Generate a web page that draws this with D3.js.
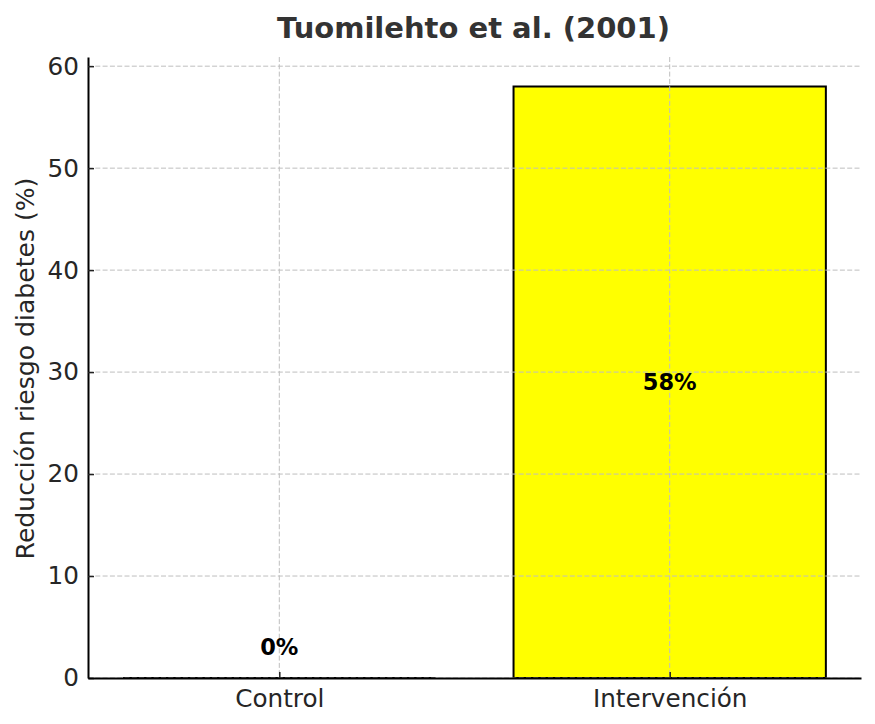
<!DOCTYPE html>
<html>
<head>
<meta charset="utf-8">
<script src="https://cdn.jsdelivr.net/npm/d3@7"></script>
<style>
  body { margin: 0; background: #fff; }
  text { font-family: 'DejaVu Sans', sans-serif; }
</style>
</head>
<body>
<div id="chart"></div>
<script>
const groups = ['Control', 'Intervención'];
const reduction = [0, 58];
const yTicks = [0, 10, 20, 30, 40, 50, 60];

const width = 875, height = 724;
const margin = { top: 57, right: 14, bottom: 46, left: 88 };
const innerW = width - margin.left - margin.right,
  innerH = height - margin.top - margin.bottom;

const svg = d3.select('#chart')
  .append('svg')
  .attr('width', width)
  .attr('height', height)
  .append('g')
  .attr('transform', `translate(${margin.left},${margin.top})`);

// matplotlib-like: bars at integer positions, width .8, 5% margins
const x = d3.scaleLinear()
  .domain([-0.49, groups.length - 1 + 0.49])
  .range([0, innerW]);

const y = d3.scaleLinear()
  .domain([0, d3.max(reduction) * 1.05])
  .range([innerH, 0]);

const barW = x(0.8) - x(0);

// bars
svg.append('g')
  .selectAll('path')
  .data(reduction)
  .enter().append('path')
  .attr('d', (d, i) => {
    const x0 = x(i) - barW / 2, y0 = y(d), h = y(0) - y(d);
    return `M${x0},${y0}h${barW}v${h}h${-barW}Z`;
  })
  .attr('fill', '#ffff00')
  .attr('stroke', '#000')
  .attr('stroke-width', 2);

// grid (drawn on top of bars)
const grid = svg.append('g')
  .attr('stroke', '#bebebe')
  .attr('stroke-width', 1)
  .attr('stroke-dasharray', '5,2.3');

grid.selectAll('.hgrid')
  .data(yTicks)
  .enter().append('line')
  .attr('class', 'hgrid')
  .attr('x1', 0).attr('x2', innerW)
  .attr('y1', d => y(d)).attr('y2', d => y(d));

grid.selectAll('.vgrid')
  .data(groups)
  .enter().append('line')
  .attr('class', 'vgrid')
  .attr('x1', (d, i) => x(i)).attr('x2', (d, i) => x(i))
  .attr('y1', 0).attr('y2', innerH);

// axes
const yAxis = svg.append('g')
  .call(d3.axisLeft(y).tickValues(yTicks).tickSize(-6).tickPadding(9).tickSizeOuter(0));

const xAxis = svg.append('g')
  .attr('transform', `translate(0,${innerH})`)
  .call(d3.axisBottom(x).tickValues(d3.range(groups.length))
    .tickFormat(i => groups[i]).tickSize(-6).tickPadding(8).tickSizeOuter(0));

[yAxis, xAxis].forEach(a => {
  a.select('.domain').attr('stroke', '#000').attr('stroke-width', 2);
  a.selectAll('.tick line').attr('stroke', '#222').attr('stroke-width', 1.5);
  a.selectAll('.tick text')
    .attr('fill', '#262626')
    .style('font-family', "'DejaVu Sans', sans-serif")
    .style('font-size', '24.7px');
});
xAxis.selectAll('.tick text').attr('dy', '0.85em');

// value labels
svg.append('g')
  .selectAll('text')
  .data(reduction)
  .enter().append('text')
  .attr('x', (d, i) => x(i))
  .attr('y', d => d > 0 ? y(d / 2) : y(d + 3))
  .attr('dy', '0.35em')
  .attr('text-anchor', 'middle')
  .attr('font-weight', 'bold')
  .attr('font-size', '22.5px')
  .attr('fill', '#000')
  .text(d => `${d}%`);

// y label
svg.append('text')
  .attr('transform', `translate(${25 - margin.left},${innerH / 2 + 1}) rotate(-90)`)
  .attr('text-anchor', 'middle')
  .attr('dy', '0.35em')
  .attr('font-size', '25.1px')
  .attr('fill', '#262626')
  .text('Reducción riesgo diabetes (%)');

// title
svg.append('text')
  .attr('x', innerW / 2 - 1)
  .attr('y', 38 - margin.top)
  .attr('text-anchor', 'middle')
  .attr('font-weight', 'bold')
  .attr('font-size', '29px')
  .attr('fill', '#333')
  .text('Tuomilehto et al. (2001)');
</script>
</body>
</html>
